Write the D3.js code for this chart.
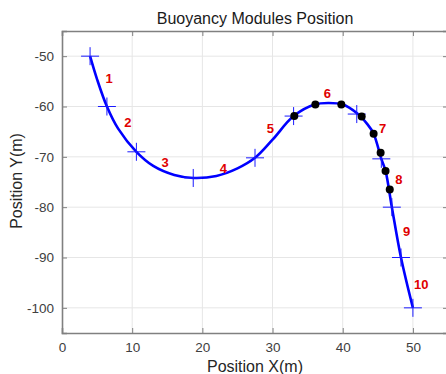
<!DOCTYPE html>
<html><head><meta charset="utf-8">
<script src="https://cdn.jsdelivr.net/npm/d3@7"></script>
<style>body{margin:0;background:#fff}svg{display:block}text{font-family:Arial,"Liberation Sans",Helvetica,sans-serif}</style>
</head><body>
<svg id="c" width="446" height="374"></svg>
<script>
const xTicks = [0,10,20,30,40,50];
const yTicks = [-50,-60,-70,-80,-90,-100];
const curveX = [4,5,6.4,8,10.6,13,16,18.7,22,25,27.5,30,33,36,38,40,42,43.5,44.4,45.5,46.1,47,48.3,50];
const curveY = [-50,-54.6,-60,-64.4,-69,-71.8,-73.6,-74.2,-73.8,-72.3,-70.2,-66.6,-61.9,-59.6,-59.3,-59.6,-61.3,-63.5,-65.4,-70.4,-72.8,-80,-90,-100];
const plusX = [4,6.4,10.6,18.7,27.5,33,42,45.5,47,48.3,50];
const plusY = [-50,-60,-69,-74.2,-70.2,-61.9,-61.5,-70.4,-80,-90,-100];
const dotX = [33.1,36.1,39.8,42.7,44.4,45.4,46.1,46.7];
const dotY = [-61.9,-59.6,-59.6,-62,-65.4,-69.2,-72.8,-76.5];
const labels = ["1","2","3","4","5","6","7","8","9","10"];
const labelX = [6.7,9.4,14.7,23.0,29.7,37.8,45.7,48.0,49.1,51.2];
const labelY = [-54.5,-63.2,-71.1,-72.4,-64.3,-57.4,-64.3,-74.5,-84.8,-95.3];

const svg = d3.select("#c");
const L=62, R=448, T=31, B=333;
const x = d3.scaleLinear().domain([0,55]).range([L,R]);
const y = d3.scaleLinear().domain([-105,-45]).range([B,T]);

// grid
const g = svg.append("g");
g.selectAll(".gx").data(xTicks.slice(1)).enter().append("line")
 .attr("x1",d=>x(d)).attr("x2",d=>x(d)).attr("y1",T).attr("y2",B)
 .attr("stroke","#e6e6e6").attr("stroke-width",1);
g.selectAll(".gy").data(yTicks).enter().append("line")
 .attr("y1",d=>y(d)).attr("y2",d=>y(d)).attr("x1",L).attr("x2",R)
 .attr("stroke","#e6e6e6").attr("stroke-width",1);

const fmt = d=>String(d);
// axes
const ax = svg.append("g").attr("transform",`translate(0,${B})`)
 .call(d3.axisBottom(x).tickValues(xTicks).tickSize(-5).tickPadding(9).tickFormat(fmt));
const axT = svg.append("g").attr("transform",`translate(0,${T})`)
 .call(d3.axisTop(x).tickValues(xTicks).tickSize(-5).tickFormat(""));
const ay = svg.append("g").attr("transform",`translate(${L},0)`)
 .call(d3.axisLeft(y).tickValues(yTicks).tickSize(-5).tickPadding(8).tickFormat(fmt));
const ayR = svg.append("g").attr("transform",`translate(${R},0)`)
 .call(d3.axisRight(y).tickValues(yTicks).tickSize(-5).tickFormat(""));
[ax,axT,ay,ayR].forEach(a=>{
  a.select(".domain").attr("stroke","#808080").attr("stroke-width",1.6);
  a.selectAll(".tick line").attr("stroke","#808080");
  a.selectAll("text").attr("fill","#404040").style("font-size","13.5px").attr("font-family","Arial, 'Liberation Sans', sans-serif");
});

// curve
const pts = curveX.map((v,i)=>[v,curveY[i]]);
svg.append("path").datum(pts)
 .attr("d", d3.line().x(d=>x(d[0])).y(d=>y(d[1])).curve(d3.curveCatmullRom.alpha(0.5)))
 .attr("fill","none").attr("stroke","#0000ff").attr("stroke-width",2.6);

// plus markers
const pl = plusX.map((v,i)=>[v,plusY[i]]);
svg.append("g").selectAll("path").data(pl).enter().append("path")
 .attr("d",d=>{const px=x(d[0]),py=y(d[1]),s=9;return `M${px-s},${py}H${px+s}M${px},${py-s}V${py+s}`;})
 .attr("stroke","#1a1aff").attr("stroke-width",1).attr("fill","none");

// dots
svg.append("g").selectAll("circle").data(dotX.map((v,i)=>[v,dotY[i]])).enter().append("circle")
 .attr("cx",d=>x(d[0])).attr("cy",d=>y(d[1])).attr("r",4).attr("fill","#000");

// labels
svg.append("g").selectAll("text").data(labels).enter().append("text")
 .attr("x",(d,i)=>x(labelX[i])).attr("y",(d,i)=>y(labelY[i]))
 .attr("text-anchor","middle").attr("dominant-baseline","central")
 .attr("fill","#e00000").style("font-weight","bold").style("font-size","13px")
 .attr("font-family","Verdana, 'DejaVu Sans', sans-serif")
 .text(d=>d);

// titles
svg.append("text").attr("x",255).attr("y",24).attr("text-anchor","middle")
 .attr("fill","#1a1a1a").style("font-size","16px").text("Buoyancy Modules Position");
svg.append("text").attr("x",255).attr("y",372).attr("text-anchor","middle")
 .attr("fill","#262626").style("font-size","16px").text("Position X(m)");
svg.append("text").attr("transform","translate(22,181) rotate(-90)").attr("text-anchor","middle")
 .attr("fill","#262626").style("font-size","16px").text("Position Y(m)");
</script>
</body></html>
